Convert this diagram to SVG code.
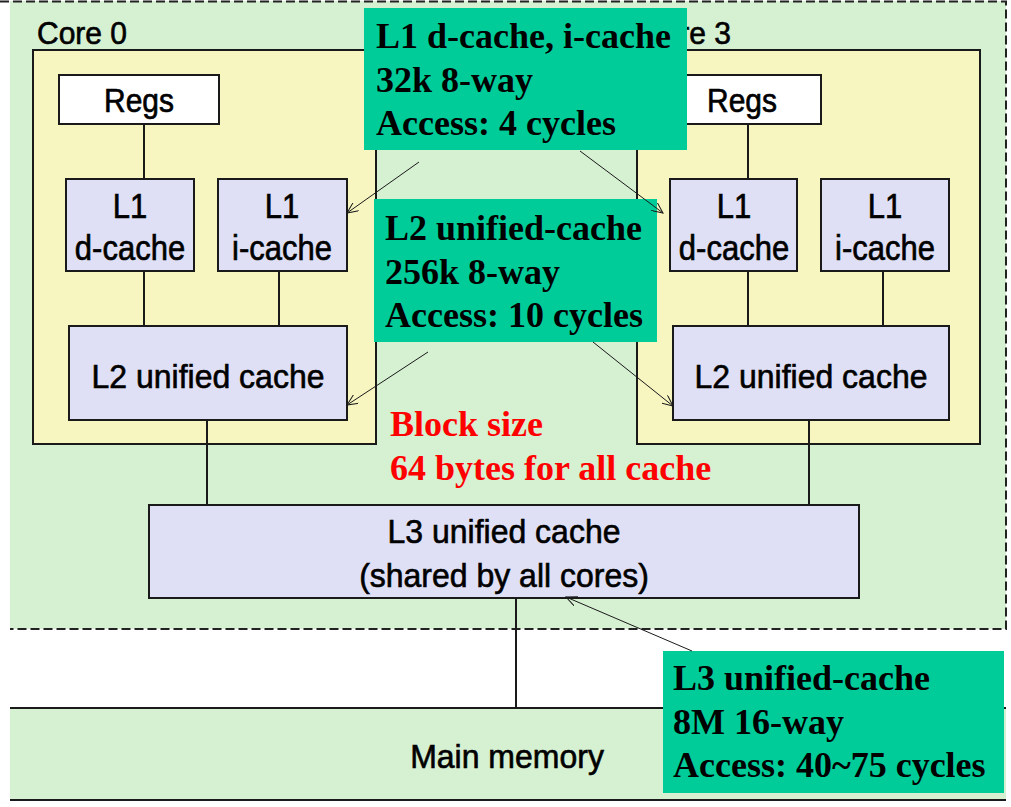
<svg xmlns="http://www.w3.org/2000/svg" width="1011" height="807" viewBox="0 0 1011 807">
<defs>
<style>
.box{stroke:#1a1a1a;stroke-width:2}
.core{fill:#f7f5c0}
.cache{fill:#dfe0f5}
.node{font-family:"Liberation Sans",Arial,sans-serif;font-size:31px;fill:#000;stroke:#000;stroke-width:0.6;text-anchor:middle}
.note{font-family:"Liberation Serif","Times New Roman",serif;font-size:36px;font-weight:bold;fill:#000}
.red{fill:#ff0000}
.teal{fill:#00cc99}
.wire{stroke:#1a1a1a;stroke-width:2;fill:none}
.ptr{stroke:#1a1a1a;stroke-width:1;fill:none;marker-end:url(#ah)}
.dash{stroke:#222;stroke-width:2;stroke-dasharray:9 4;fill:none}
</style>
<marker id="ah" viewBox="0 0 12 10" refX="11" refY="5" markerWidth="12" markerHeight="10" markerUnits="userSpaceOnUse" orient="auto">
<path d="M0,0 L11,5 L0,10" fill="none" stroke="#1a1a1a" stroke-width="1"/>
</marker>
</defs>
<rect width="1011" height="807" fill="#ffffff"/>
<g id="chip">
<rect x="10" y="1" width="996" height="628" fill="#d6f0d2"/>
<path class="dash" d="M0,1.5 H1006 V629 H10"/>
</g>
<g id="core0">
<rect class="box core" x="33" y="50" width="343" height="394"/>
<text class="node" transform="translate(37,44) scale(1,1.05)" style="text-anchor:start;font-size:30px">Core 0</text>
</g>
<g id="core3">
<rect class="box core" x="637" y="50" width="343" height="394"/>
<text class="node" transform="translate(641,44) scale(1,1.05)" style="text-anchor:start;font-size:30px">Core 3</text>
</g>
<g id="connectors">
<path class="wire" d="M144,124 V179 M144,271 V326 M279,271 V326 M207,420 V505"/>
<path class="wire" d="M748,124 V179 M748,271 V326 M883,271 V326 M809,420 V505"/>
<path class="wire" d="M516,598 V708"/>
</g>
<g id="regs0">
<rect class="box" x="59" y="75" width="160" height="49" fill="#ffffff"/>
<text class="node" transform="translate(139,112) scale(1,1.12)" style="font-size:30px">Regs</text>
</g>
<g id="l1d0">
<rect class="box cache" x="66" y="179" width="128" height="92"/>
<text class="node" transform="translate(130,218) scale(1,1.14)">L1</text>
<text class="node" transform="translate(130,260) scale(1,1.14)">d-cache</text>
</g>
<g id="l1i0">
<rect class="box cache" x="218" y="179" width="129" height="92"/>
<text class="node" transform="translate(282,218) scale(1,1.14)">L1</text>
<text class="node" transform="translate(282,260) scale(1,1.14)">i-cache</text>
</g>
<g id="l2_0">
<rect class="box cache" x="69" y="326" width="278" height="94"/>
<text class="node" transform="translate(208,388) scale(1,1.04)" style="font-size:32px">L2 unified cache</text>
</g>
<g id="regs3">
<rect class="box" x="661" y="75" width="160" height="49" fill="#ffffff"/>
<text class="node" transform="translate(742,112) scale(1,1.12)" style="font-size:30px">Regs</text>
</g>
<g id="l1d3">
<rect class="box cache" x="670" y="179" width="127" height="92"/>
<text class="node" transform="translate(734,218) scale(1,1.14)">L1</text>
<text class="node" transform="translate(734,260) scale(1,1.14)">d-cache</text>
</g>
<g id="l1i3">
<rect class="box cache" x="821" y="179" width="128" height="92"/>
<text class="node" transform="translate(885,218) scale(1,1.14)">L1</text>
<text class="node" transform="translate(885,260) scale(1,1.14)">i-cache</text>
</g>
<g id="l2_3">
<rect class="box cache" x="673" y="326" width="276" height="94"/>
<text class="node" transform="translate(811,388) scale(1,1.04)" style="font-size:32px">L2 unified cache</text>
</g>
<g id="l3">
<rect class="box cache" x="149" y="505" width="710" height="93"/>
<text class="node" transform="translate(504,543) scale(1,1.04)" style="font-size:32px">L3 unified cache</text>
<text class="node" transform="translate(504,587) scale(1,1.04)" style="font-size:32px">(shared by all cores)</text>
</g>
<g id="mainmem">
<rect x="10" y="708" width="996" height="92" fill="#d6f0d2"/>
<path class="wire" d="M10,708 H1006 M10,800 H1006"/>
<text class="node" transform="translate(507,768) scale(1,1.05)" style="font-size:32px">Main memory</text>
</g>
<g id="note-l1">
<rect class="teal" x="364" y="8" width="323" height="142"/>
<text class="note" x="376" y="48">L1 d-cache, i-cache</text>
<text class="note" x="376" y="92">32k 8-way</text>
<text class="note" x="376" y="135">Access: 4 cycles</text>
</g>
<g id="note-l2">
<rect class="teal" x="374" y="199" width="283" height="143"/>
<text class="note" x="385" y="240">L2 unified-cache</text>
<text class="note" x="385" y="284">256k 8-way</text>
<text class="note" x="385" y="327">Access: 10 cycles</text>
</g>
<g id="note-block">
<text class="note red" x="390" y="436">Block size</text>
<text class="note red" x="390" y="480">64 bytes for all cache</text>
</g>
<g id="note-l3">
<rect class="teal" x="663" y="651" width="341" height="142"/>
<text class="note" x="673" y="690">L3 unified-cache</text>
<text class="note" x="673" y="734">8M 16-way</text>
<text class="note" x="673" y="777">Access: 40~75 cycles</text>
</g>
<g id="pointers">
<path class="ptr" d="M419,162 L347,213"/>
<path class="ptr" d="M580,151 L663,213"/>
<path class="ptr" d="M428,352 L347,405"/>
<path class="ptr" d="M593,342 L673,406"/>
<path class="ptr" d="M692,651 L566,597"/>
</g>
</svg>
